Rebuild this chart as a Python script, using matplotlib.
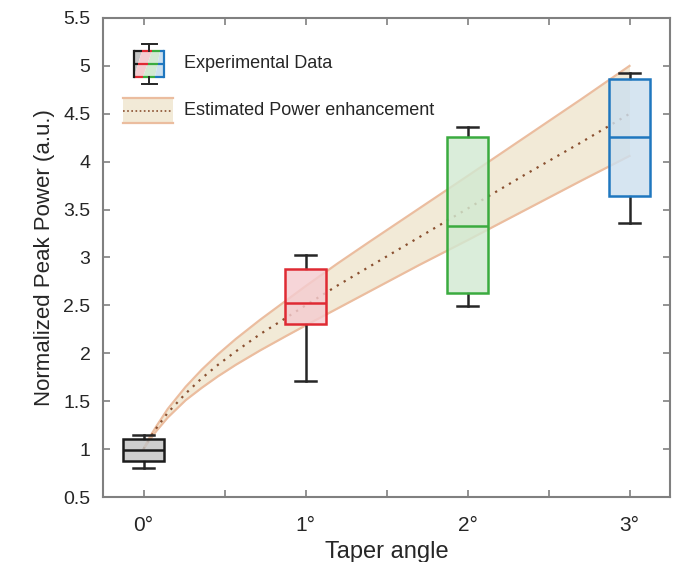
import matplotlib
matplotlib.use('Agg')
import matplotlib.pyplot as plt
from matplotlib.patches import Polygon, Rectangle
from matplotlib.lines import Line2D

plt.rcParams['font.family'] = ['Liberation Sans', 'DejaVu Sans']

# ---- data ----
angles = [0, 1, 2, 3]
tick_pos = [0, 0.5, 1, 1.5, 2, 2.5, 3]
tick_labels = ['0°', '', '1°', '', '2°', '', '3°']
y_ticks = [0.5, 1, 1.5, 2, 2.5, 3, 3.5, 4, 4.5, 5, 5.5]
y_tick_labels = ['0.5', '1', '1.5', '2', '2.5', '3', '3.5', '4', '4.5', '5', '5.5']

whislo = [0.80, 1.71, 2.49, 3.36]
q1 = [0.88, 2.31, 2.63, 3.64]
med = [0.99, 2.53, 3.33, 4.26]
q3 = [1.11, 2.88, 4.26, 4.86]
whishi = [1.15, 3.03, 4.36, 4.93]

est_x = [0, 0.04, 0.08, 0.15, 0.26, 0.36, 0.46, 0.57, 0.72, 0.88, 1.0, 1.2, 1.4, 1.7, 2.0, 2.35, 2.7, 3.0]
est_mid = [1.0, 1.12, 1.22, 1.38, 1.58, 1.74, 1.88, 2.02, 2.20, 2.37, 2.50, 2.71, 2.91, 3.21, 3.51, 3.86, 4.20, 4.50]
est_hi = [1.0, 1.13, 1.24, 1.42, 1.65, 1.83, 1.99, 2.15, 2.35, 2.55, 2.70, 2.94, 3.17, 3.51, 3.85, 4.25, 4.65, 5.00]
est_lo = [1.0, 1.10, 1.19, 1.33, 1.51, 1.64, 1.76, 1.88, 2.03, 2.18, 2.29, 2.47, 2.65, 2.92, 3.18, 3.49, 3.80, 4.06]

edge_colors = ['#1c1c1c', '#df2a33', '#3aab3f', '#1f77bf']
fill_colors = ['#c4c4c4', '#f4ccd0', '#d2e9d2', '#cde0ef']

band_fill = '#f2ead7'
band_edge = '#ebbd9f'
band_mid = '#8a5030'
axis_gray = '#808080'
text_col = '#262626'

fig = plt.figure(figsize=(6.79, 5.62), dpi=100)
ax = fig.add_axes([103 / 679, 1 - 497 / 562, 567 / 679, 479 / 562])

# band
ax.fill_between(est_x, est_lo, est_hi, color=band_fill, lw=0, zorder=1)
ax.plot(est_x, est_hi, color=band_edge, lw=1.6, zorder=1.5)
ax.plot(est_x, est_lo, color=band_edge, lw=1.6, zorder=1.5)
ax.plot(est_x, est_mid, color=band_mid, lw=1.6, ls=(0, (1, 2.6)), zorder=1.6)

# boxes
stats = []
for i in range(len(angles)):
    stats.append(dict(med=med[i], q1=q1[i], q3=q3[i], whislo=whislo[i], whishi=whishi[i]))
bp = ax.bxp(stats, positions=angles, widths=0.25, capwidths=0.125, showfliers=False,
            patch_artist=True, manage_ticks=False)
for i, b in enumerate(bp['boxes']):
    b.set_edgecolor(edge_colors[i])
    b.set_linewidth(1.8)
    b.set_zorder(3)
    b.set_facecolor(matplotlib.colors.to_rgba(fill_colors[i], 0.82))
for i, m in enumerate(bp['medians']):
    m.set_color(edge_colors[i]); m.set_linewidth(1.8); m.set_zorder(4)
for w in bp['whiskers']:
    w.set_color('#262626'); w.set_linewidth(1.8); w.set_zorder(2.5)
for c in bp['caps']:
    c.set_color('#262626'); c.set_linewidth(1.8); c.set_zorder(2.5)

ax.set_xlim(-0.25, 3.25)
ax.set_ylim(0.5, 5.5)
ax.set_xticks(tick_pos)
ax.set_xticklabels(tick_labels)
ax.set_yticks(y_ticks)
ax.set_yticklabels(y_tick_labels)
ax.tick_params(direction='in', length=5, width=1.2, color=axis_gray, top=True, right=True,
               labelsize=14, labelcolor=text_col, pad=9)
ax.tick_params(axis='x', pad=14, labelsize=15)
for s in ax.spines.values():
    s.set_color(axis_gray); s.set_linewidth(1.5)
ax.set_xlabel('Taper angle', fontsize=17, color=text_col, labelpad=4)
ax.set_ylabel('Normalized Peak Power (a.u.)', fontsize=16, color=text_col, labelpad=6)

# ---- legend (drawn manually in axes coordinates) ----
def A(px, py):
    return ((px - 103) / 567, (497 - py) / 479)

T = ax.transAxes
top, bot, midy = 51, 77, 63.5
L, R = 134, 164
cols = edge_colors
top_d = [L, 142, 152, 160, R]
bot_d = [L - 8, L, 143, 155, R]
def xat(i, py):
    f = (py - top) / (bot - top)
    return top_d[i] + (bot_d[i] - top_d[i]) * f

clip_rect = Rectangle(A(L, bot), (R - L) / 567, (bot - top) / 479, transform=T)
for k in range(4):
    poly = [A(top_d[k], top), A(top_d[k + 1], top), A(bot_d[k + 1], bot), A(bot_d[k], bot)]
    p = Polygon(poly, closed=True, transform=T, facecolor=fill_colors[k], edgecolor='none', zorder=5)
    ax.add_patch(p)
    p.set_clip_path(clip_rect)
    for py in (top, midy, bot):
        x0 = max(xat(k, py), L); x1 = min(xat(k + 1, py), R)
        if x1 > x0:
            ln = Line2D([A(x0, py)[0], A(x1, py)[0]], [A(x0, py)[1], A(x1, py)[1]],
                        transform=T, color=cols[k], lw=1.6, zorder=6, solid_capstyle='butt')
            ax.add_line(ln)
ax.add_line(Line2D([A(L, top)[0]] * 2, [A(L, top)[1], A(L, bot)[1]], transform=T, color=cols[0], lw=1.6, zorder=6))
ax.add_line(Line2D([A(R, top)[0]] * 2, [A(R, top)[1], A(R, bot)[1]], transform=T, color=cols[3], lw=1.6, zorder=6))
wx = 149
for (y0, y1) in ((44, top), (bot, 84)):
    ax.add_line(Line2D([A(wx, y0)[0]] * 2, [A(wx, y0)[1], A(wx, y1)[1]], transform=T, color='#262626', lw=1.4, zorder=6))
for yc in (44, 84):
    ax.add_line(Line2D([A(142, yc)[0], A(157, yc)[0]], [A(142, yc)[1]] * 2, transform=T, color='#262626', lw=1.4, zorder=6))

# second legend icon
ax.add_patch(Rectangle(A(123, 123), 50 / 567, 25 / 479, transform=T, facecolor=band_fill, edgecolor='none', zorder=5))
for yy in (98, 123):
    ax.add_line(Line2D([A(123, yy)[0], A(173, yy)[0]], [A(123, yy)[1]] * 2, transform=T, color=band_edge, lw=1.6, zorder=6))
ax.add_line(Line2D([A(123, 110.5)[0], A(173, 110.5)[0]], [A(123, 110.5)[1]] * 2, transform=T, color=band_mid,
                   lw=1.2, ls=(0, (1, 1.5)), zorder=6))

ax.text(*A(184, 63), 'Experimental Data', transform=T, fontsize=13, color=text_col, va='center', ha='left', zorder=7)
ax.text(*A(184, 110.5), 'Estimated Power enhancement', transform=T, fontsize=13, color=text_col, va='center', ha='left', zorder=7)

fig.savefig('out.png', dpi=100)
